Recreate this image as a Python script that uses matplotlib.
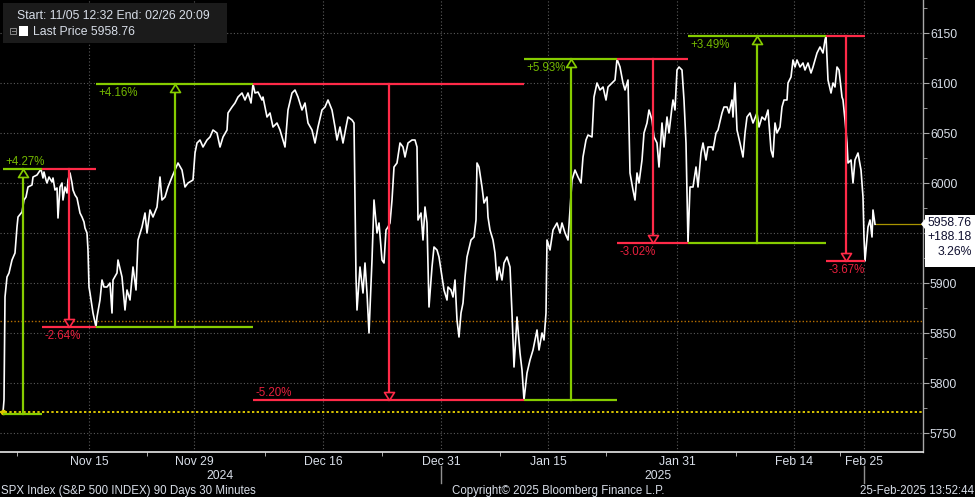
import matplotlib
matplotlib.use('Agg')
import matplotlib.pyplot as plt
from matplotlib import transforms
from matplotlib.patches import Rectangle, Polygon
from matplotlib.lines import Line2D

W, H = 975, 497

# SPX 30 min closes, x is the trading-time position along the chart
pos = [3, 4, 5, 7, 9, 12, 15, 17, 18, 22,
       24, 26, 28, 32, 33, 37, 39, 41, 43, 44,
       46, 47, 49, 52, 53, 55, 57, 58, 60, 62,
       63, 65, 67, 68, 70, 72, 73, 75, 77, 78,
       80, 82, 84, 85, 87, 88, 89, 90, 93, 96,
       97, 100, 102, 104, 107, 110, 112, 113, 117, 118,
       122, 125, 127, 130, 133, 136, 138, 142, 145, 147,
       150, 153, 157, 160, 162, 165, 168, 172, 175, 178,
       182, 185, 188, 193, 195, 197, 200, 203, 207, 210,
       213, 217, 220, 223, 227, 228, 232, 235, 238, 242,
       245, 248, 251, 253, 255, 258, 262, 263, 267, 270,
       273, 277, 280, 283, 285, 288, 292, 295, 298, 302,
       305, 308, 312, 315, 318, 322, 325, 328, 332, 335,
       337, 340, 343, 346, 348, 352, 354, 356, 357, 360,
       363, 365, 367, 369, 372, 374, 377, 379, 382, 384,
       386, 388, 390, 392, 394, 397, 400, 403, 405, 408,
       412, 415, 417, 418, 421, 423, 425, 427, 429, 432,
       434, 437, 439, 442, 444, 447, 448, 451, 453, 455,
       457, 459, 461, 463, 465, 467, 471, 474, 476, 477,
       479, 482, 484, 487, 488, 490, 493, 495, 497, 499,
       502, 504, 507, 510, 512, 514, 517, 520, 522, 524,
       527, 530, 533, 537, 539, 542, 544, 546, 547, 550,
       553, 557, 560, 562, 565, 568, 572, 575, 578, 581,
       583, 586, 588, 592, 594, 597, 600, 603, 606, 608,
       612, 615, 617, 620, 623, 625, 628, 630, 633, 635,
       637, 639, 642, 644, 647, 649, 652, 654, 657, 659,
       662, 664, 667, 669, 672, 673, 675, 677, 679, 682,
       684, 686, 688, 690, 693, 696, 698, 701, 703, 706,
       708, 712, 713, 716, 718, 722, 724, 727, 729, 732,
       733, 735, 737, 740, 743, 745, 747, 750, 753, 757,
       759, 762, 765, 768, 771, 773, 775, 777, 780, 782,
       784, 787, 788, 791, 793, 795, 797, 800, 803, 805,
       808, 811, 813, 817, 820, 823, 825, 826, 828, 831,
       833, 835, 837, 839, 842, 843, 845, 847, 848, 851,
       853, 855, 858, 861, 863, 864, 865, 868, 870, 872,
       873, 875]
spx = [5770.6, 5783, 5886, 5906, 5910, 5923, 5930, 5956, 5966, 5971,
       5983, 5986, 5996, 5998, 6006, 6008, 6011, 6014, 6005, 6011,
       6003, 6000, 6006, 6001, 6005, 5993, 5995, 5965, 5996, 6000,
       5983, 5996, 5990, 6003, 6010, 6000, 5993, 5988, 5985, 5980,
       5970, 5966, 5961, 5955, 5950, 5933, 5896, 5890, 5870, 5856,
       5866, 5883, 5903, 5896, 5896, 5900, 5870, 5903, 5910, 5923,
       5906, 5873, 5893, 5883, 5916, 5893, 5943, 5956, 5970, 5950,
       5973, 5966, 5976, 6006, 5983, 5986, 5996, 6006, 6013, 6020,
       6013, 5996, 6000, 6003, 6030, 6040, 6043, 6036, 6043, 6046,
       6053, 6050, 6036, 6046, 6053, 6070, 6076, 6080, 6086, 6090,
       6083, 6090, 6080, 6099, 6090, 6091, 6083, 6086, 6066, 6070,
       6056, 6060, 6053, 6043, 6036, 6073, 6090, 6093, 6086, 6073,
       6080, 6060, 6053, 6040, 6056, 6073, 6076, 6083, 6073, 6056,
       6043, 6056, 6040, 6056, 6066, 6063, 6060, 5906, 5873, 5916,
       5890, 5920, 5890, 5850, 5923, 5983, 5950, 5960, 5923, 5920,
       5953, 5956, 5960, 5983, 6016, 6020, 6040, 6036, 6026, 6040,
       6043, 6043, 6036, 5963, 5970, 5943, 5976, 5960, 5876, 5916,
       5936, 5933, 5926, 5906, 5893, 5883, 5896, 5893, 5886, 5903,
       5863, 5846, 5870, 5880, 5906, 5926, 5943, 5946, 5963, 6020,
       6016, 5996, 5980, 5986, 5966, 5953, 5943, 5930, 5903, 5916,
       5903, 5920, 5926, 5916, 5870, 5816, 5866, 5830, 5813, 5783,
       5810, 5823, 5833, 5853, 5833, 5850, 5843, 5870, 5943, 5933,
       5953, 5960, 5950, 5960, 5950, 5943, 6003, 6013, 6006, 6000,
       6026, 6043, 6048, 6046, 6086, 6100, 6093, 6096, 6083, 6096,
       6100, 6103, 6124, 6116, 6100, 6093, 6103, 6010, 5993, 5983,
       6010, 6000, 6023, 6050, 6060, 6073, 6063, 6046, 6040, 6016,
       6060, 6036, 6066, 6050, 6076, 6083, 6073, 6113, 6116, 6113,
       6083, 6040, 5940, 5996, 5996, 6016, 5996, 6030, 6040, 6023,
       6036, 6036, 6033, 6050, 6053, 6070, 6076, 6076, 6070, 6083,
       6066, 6100, 6053, 6040, 6026, 6050, 6066, 6070, 6060, 6070,
       6056, 6066, 6063, 6073, 6033, 6026, 6060, 6050, 6056, 6076,
       6083, 6083, 6100, 6106, 6123, 6116, 6123, 6116, 6120, 6113,
       6120, 6110, 6116, 6130, 6136, 6130, 6143, 6147, 6103, 6090,
       6100, 6096, 6116, 6113, 6086, 6083, 6063, 6040, 6020, 6023,
       6000, 6023, 6030, 6013, 5986, 5946, 5922, 5956, 5963, 5946,
       5973, 5958.76]

last_price = 5958.76
start_price = 5770.58
ref_level = 5862

# swing points used by the up/down measurement tool
pivot_pos = [3, 42, 96, 253, 524, 617, 688, 826, 865]
pivot_lvl = [5769, 6014, 5856, 6099, 5783, 6124, 5940, 6147, 5922]
move_labels = ['+4.27%', '-2.64%', '+4.16%', '-5.20%', '+5.93%', '-3.02%', '+3.49%', '-3.67%']
label_above = [True, False, False, True, False, False, False, False]

date_pos = [89, 194, 323, 441, 548, 677, 794, 864]
date_labels = ['Nov 15', 'Nov 29', 'Dec 16', 'Dec 31', 'Jan 15', 'Jan 31', 'Feb 14', 'Feb 25']
week_pos = [17, 147, 265, 382, 500, 606, 736, 840]
year_pos = [220, 658]
year_labels = ['2024', '2025']
price_ticks = [5750, 5800, 5850, 5900, 5950, 6000, 6050, 6100, 6150]
# 5950 sits under the last price tag
price_labels = ['5750', '5800', '5850', '5900', '', '6000', '6050', '6100', '6150']
price_minor = [5775, 5825, 5875, 5925, 5975, 6025, 6075, 6125, 6175]

plt.rcParams['font.family'] = ['Liberation Sans', 'DejaVu Sans']

green = '#86cc00'
red = '#ff2a48'
green_txt = '#74b800'
red_txt = '#e8203e'
txt = '#d8dee8'

fig = plt.figure(figsize=(W / 100., H / 100.), dpi=100, facecolor='black')
ax = fig.add_axes([0, 45. / H, 923. / W, 452. / H])
ax.set_facecolor('black')
ax.set_xlim(0, 923)
ax.set_ylim(5731, 6183)

for s in ['left', 'top']:
    ax.spines[s].set_visible(False)
ax.spines['right'].set_color('#a8a8a8')
ax.spines['bottom'].set_color('#e8e8e8')
ax.spines['right'].set_linewidth(1)
ax.spines['bottom'].set_linewidth(1.2)

ax.yaxis.tick_right()
ax.set_yticks(price_ticks)
ax.set_yticklabels(price_labels)
ax.set_yticks(price_minor, minor=True)
ax.tick_params(axis='y', which='major', direction='out', length=4, color='#a8a8a8',
               labelcolor=txt, labelsize=8.8, pad=1)
ax.tick_params(axis='y', which='minor', direction='out', length=3, color='#a8a8a8')

ax.set_xticks(date_pos)
ax.set_xticklabels(date_labels)
ax.set_xticks(week_pos, minor=True)
ax.tick_params(axis='x', which='major', length=0, labelcolor=txt, labelsize=8.8, pad=3)
ax.tick_params(axis='x', which='minor', direction='out', length=3, color='#c8c8c8')

ax.grid(True, which='major', color='#5c5c5c', linestyle=(0, (1, 2)), linewidth=0.8)

# reference levels
ax.axhline(start_price, color='#d8c400', linestyle=(0, (1.2, 1.2)), linewidth=1.4, zorder=2)
ax.axhline(ref_level, color='#b87000', linestyle=(0, (1, 1.5)), linewidth=1.0, zorder=2)
ax.plot([pos[-1], 923], [last_price, last_price], color='#a89400', linewidth=0.9, zorder=2)

ax.plot(pos, spx, color='white', linewidth=1.2, zorder=3)
ax.plot(pos[0], spx[0], 'o', color='#e0c800', markersize=3, zorder=3)

# measurement tool: levels, vertical arrow, % labels
tip_up = [(0, 0), (-5, -8), (5, -8), (0, 0)]
tip_dn = [(0, 0), (-5, 8), (5, 8), (0, 0)]
for i in range(len(move_labels)):
    x0, x1 = pivot_pos[i], pivot_pos[i + 1]
    y0, y1 = pivot_lvl[i], pivot_lvl[i + 1]
    up = y1 > y0
    c = green if up else red
    xm = (x0 + x1) / 2.
    ax.plot([x0, x1], [y0, y0], color=c, linewidth=1.6, zorder=4, solid_capstyle='butt')
    ax.plot([x0, x1], [y1, y1], color=c, linewidth=1.6, zorder=4, solid_capstyle='butt')
    ax.plot([xm, xm], [y0, y1], color=c, linewidth=1.6, zorder=4)
    ax.plot(xm, y1, marker=tip_up if up else tip_dn, markersize=11.5,
            markerfacecolor='black', markeredgecolor=c, markeredgewidth=1.2, zorder=5)
    if label_above[i]:
        ax.annotate(move_labels[i], (x0, y1), xytext=(1.5, 1), textcoords='offset points',
                    ha='left', va='bottom', color=green_txt if up else red_txt,
                    fontsize=8.3, zorder=6)
    else:
        ax.annotate(move_labels[i], (x0, y1), xytext=(1.5, -2), textcoords='offset points',
                    ha='left', va='top', color=green_txt if up else red_txt,
                    fontsize=8.3, zorder=6)

# year row and separators under the date axis
xfig = transforms.blended_transform_factory(ax.transData, fig.transFigure)
for i in range(len(year_labels)):
    ax.text(year_pos[i], 1 - 476. / H, year_labels[i], transform=xfig, ha='center',
            va='center', color=txt, fontsize=8.8, clip_on=False)
for xs in [date_pos[3], date_pos[7]]:
    fig.add_artist(Line2D([xs, xs], [1 - 466. / H, 1 - 483. / H], transform=xfig,
                          color='#909090', linewidth=1))


def fx(x):
    return x / float(W)


def fy(y):
    return 1 - y / float(H)


# legend box top left
fig.add_artist(Rectangle((fx(3), fy(43)), 224. / W, 40. / H, transform=fig.transFigure,
                         facecolor='#1b1b1b', edgecolor='none', zorder=5))
fig.text(fx(17), fy(16), 'Start: 11/05 12:32 End: 02/26 20:09', color=txt,
         fontsize=8.8, va='center', ha='left', zorder=6)
fig.add_artist(Rectangle((fx(10), fy(34)), 6. / W, 6. / H, transform=fig.transFigure,
                         facecolor='none', edgecolor='#888888', linewidth=0.7, zorder=6))
fig.add_artist(Line2D([fx(11.5), fx(14.5)], [fy(31), fy(31)], transform=fig.transFigure,
                      color='#888888', linewidth=0.7, zorder=6))
fig.add_artist(Rectangle((fx(19), fy(36)), 9. / W, 10. / H, transform=fig.transFigure,
                         facecolor='white', edgecolor='none', zorder=6))
fig.text(fx(33), fy(32), 'Last Price 5958.76', color=txt, fontsize=8.8,
         va='center', ha='left', zorder=6)

# last price tag on the right axis
tag = [(925, 215), (975, 215), (975, 267), (925, 267), (925, 229), (921, 224), (925, 219)]
fig.add_artist(Polygon([(fx(a), fy(b)) for a, b in tag], closed=True, transform=fig.transFigure,
                       facecolor='white', edgecolor='none', zorder=5))
tag_lines = ['5958.76', '+188.18', '3.26%']
for i in range(3):
    fig.text(fx(972), fy(223 + 14.5 * i), tag_lines[i], color='#101030', fontsize=8.8,
             ha='right', va='center', zorder=6)

# footer
fig.text(fx(1), fy(491), 'SPX Index (S&P 500 INDEX) 90 Days 30 Minutes', color=txt,
         fontsize=8.3, ha='left', va='center')
fig.text(fx(558), fy(491), 'Copyright\u00a9 2025 Bloomberg Finance L.P.', color=txt,
         fontsize=8.3, ha='center', va='center')
fig.text(fx(974), fy(491), '25-Feb-2025 13:52:44', color=txt, fontsize=8.3,
         ha='right', va='center')

fig.savefig('out.png', dpi=100, facecolor='black')
